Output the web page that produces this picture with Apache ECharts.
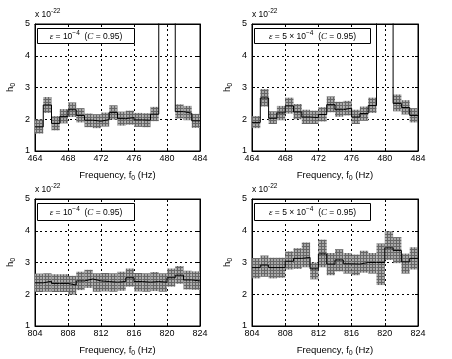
<!DOCTYPE html>
<html><head><meta charset="utf-8">
<script src="https://cdn.jsdelivr.net/npm/echarts@6/dist/echarts.min.js"></script>
<style>html,body{margin:0;padding:0;background:#fff}#c{width:452px;height:359px}</style>
</head><body><div id="c"></div>
<script>
// ---- data ----
const binsA = [464,465,466,467,468,469,470,471,472,473,474,475,476,477,478,479,480,481,482,483];
const binsB = [804,805,806,807,808,809,810,811,812,813,814,815,816,817,818,819,820,821,822,823];
const binWidth = 1;
const rangeA = [464, 484];
const rangeB = [804, 824];
const yRange = [1, 5];
const scaleLabel = ['x 10', '-22'];
const yName = ['h', '0'];
const xName = ['Frequency, f', '0', ' (Hz)'];
const legendEps = [['10', '\u22124'], ['5 \u00d7 10', '\u22124']];
const confLevel = '0.95';

// top-left: eps = 1e-4
const tlCenter = [1.76, 2.45, 1.87, 2.09, 2.30, 2.12, 1.97, 1.94, 1.99, 2.21, 2.02, 2.05, 1.98, 1.97, 2.16, 7.0, 7.0, 2.24, 2.19, 1.95];
const tlLow    = [1.55, 2.20, 1.65, 1.87, 2.07, 1.90, 1.75, 1.72, 1.77, 1.99, 1.80, 1.83, 1.76, 1.75, 1.94, 6.0, 6.0, 2.02, 1.97, 1.73];
const tlHigh   = [1.99, 2.70, 2.10, 2.32, 2.53, 2.35, 2.18, 2.16, 2.21, 2.44, 2.24, 2.27, 2.20, 2.19, 2.39, 8.0, 8.0, 2.47, 2.42, 2.17];
// top-right: eps = 5e-4
const trCenter = [1.90, 2.67, 2.03, 2.20, 2.42, 2.23, 2.07, 2.05, 2.15, 2.46, 2.30, 2.35, 2.07, 2.18, 2.43, 7.0, 7.0, 2.50, 2.37, 2.12];
const trLow    = [1.72, 2.40, 1.85, 1.97, 2.18, 2.00, 1.85, 1.85, 1.93, 2.22, 2.08, 2.12, 1.85, 1.95, 2.20, 6.0, 6.0, 2.25, 2.15, 1.90];
const trHigh   = [2.10, 2.95, 2.25, 2.42, 2.68, 2.48, 2.30, 2.27, 2.38, 2.72, 2.55, 2.58, 2.30, 2.40, 2.68, 8.0, 8.0, 2.78, 2.60, 2.35];
// bottom-left: eps = 1e-4
const blCenter = [2.36, 2.41, 2.34, 2.34, 2.29, 2.42, 2.48, 2.42, 2.40, 2.38, 2.40, 2.52, 2.40, 2.38, 2.40, 2.38, 2.52, 2.60, 2.45, 2.42];
const blLow    = [2.07, 2.08, 2.07, 2.07, 1.99, 2.13, 2.20, 2.08, 2.09, 2.08, 2.11, 2.24, 2.09, 2.08, 2.10, 2.08, 2.24, 2.33, 2.15, 2.14];
const blHigh   = [2.65, 2.66, 2.63, 2.63, 2.58, 2.71, 2.77, 2.66, 2.67, 2.66, 2.71, 2.81, 2.67, 2.66, 2.70, 2.66, 2.81, 2.89, 2.74, 2.72];
// bottom-right: eps = 5e-4
const brCenter = [2.84, 2.92, 2.84, 2.84, 3.04, 3.13, 3.16, 2.80, 3.27, 2.95, 3.08, 2.96, 2.95, 3.00, 3.00, 3.00, 3.46, 3.38, 3.02, 3.13];
const brLow    = [2.50, 2.55, 2.50, 2.52, 2.78, 2.80, 2.85, 2.47, 2.85, 2.60, 2.72, 2.65, 2.60, 2.68, 2.65, 2.29, 3.08, 2.98, 2.65, 2.78];
const brHigh   = [3.14, 3.22, 3.15, 3.15, 3.35, 3.45, 3.63, 3.00, 3.72, 3.30, 3.42, 3.30, 3.25, 3.37, 3.30, 3.60, 3.98, 3.80, 3.28, 3.48];

// ---- chart ----
const FONT = 'Liberation Sans, Arial, Helvetica, sans-serif';
const panels = [
  {bins: binsA, range: rangeA, c: tlCenter, lo: tlLow, hi: tlHigh, eps: 0, grid: {left: 35, top: 24, width: 165, height: 127}, box: {w: 97, h: 15}},
  {bins: binsA, range: rangeA, c: trCenter, lo: trLow, hi: trHigh, eps: 1, grid: {left: 252, top: 24, width: 166, height: 127}, box: {w: 116, h: 15}},
  {bins: binsB, range: rangeB, c: blCenter, lo: blLow, hi: blHigh, eps: 0, grid: {left: 35, top: 199, width: 165, height: 127}, box: {w: 97, h: 17}},
  {bins: binsB, range: rangeB, c: brCenter, lo: brLow, hi: brHigh, eps: 1, grid: {left: 252, top: 199, width: 166, height: 127}, box: {w: 116, h: 17}}
];

const pc = document.createElement('canvas');
pc.width = 3; pc.height = 3;
const pctx = pc.getContext('2d');
pctx.fillStyle = '#666666'; pctx.fillRect(0, 0, 3, 3);
pctx.fillStyle = '#a9a9a9'; pctx.fillRect(1, 1, 2, 2);
const pattern = {image: pc, repeat: 'repeat'};

function renderBand(params, api) {
  const x0 = api.value(0), lo = api.value(1), hi = api.value(2);
  const p1 = api.coord([x0, hi]);
  const p2 = api.coord([x0 + binWidth, lo]);
  const cs = params.coordSys;
  const shape = echarts.graphic.clipRectByRect(
    {x: p1[0], y: p1[1], width: p2[0] - p1[0], height: p2[1] - p1[1]},
    {x: cs.x, y: cs.y, width: cs.width, height: cs.height});
  if (!shape) return;
  return {type: 'rect', shape: shape, style: {fill: pattern}};
}

const subRich = {
  m: {fontSize: 9.5, fontFamily: FONT, color: '#000'},
  s: {fontSize: 7, fontFamily: FONT, color: '#000', padding: [7, 0, 0, 0]},
  p: {fontSize: 6.5, fontFamily: FONT, color: '#000', padding: [0, 0, 7, 0]},
  i: {fontSize: 9, fontFamily: 'Liberation Serif, serif', fontStyle: 'italic', color: '#000'},
  t: {fontSize: 8.5, fontFamily: FONT, color: '#000'}
};

const grids = [], xAxes = [], yAxes = [], series = [], graphics = [];
const dotted = {color: '#000', type: [2, 3], width: 1};
panels.forEach((P, i) => {
  grids.push(Object.assign({show: true, borderColor: '#000', borderWidth: 1, backgroundColor: '#fff'}, P.grid));
});
panels.forEach((P, i) => {
  xAxes.push({
    type: 'value', gridIndex: i, min: P.range[0], max: P.range[1], interval: 4,
    axisLine: {show: true, lineStyle: {color: '#000'}},
    axisTick: {show: true, inside: true, length: 3, lineStyle: {color: '#000'}},
    axisLabel: {fontSize: 9, color: '#000', fontFamily: FONT, margin: 3},
    splitLine: {show: true, lineStyle: dotted},
    name: '{m|' + xName[0] + '}{s|' + xName[1] + '}{m|' + xName[2] + '}',
    nameLocation: 'middle', nameGap: 17,
    nameTextStyle: {rich: subRich}
  });
  yAxes.push({
    type: 'value', gridIndex: i, min: yRange[0], max: yRange[1], interval: 1,
    axisLine: {show: true, lineStyle: {color: '#000'}},
    axisTick: {show: true, inside: true, length: 3, lineStyle: {color: '#000'}},
    axisLabel: {fontSize: 9, color: '#000', fontFamily: FONT, margin: 5},
    splitLine: {show: true, lineStyle: dotted},
    name: '{m|' + yName[0] + '}{s|' + yName[1] + '}',
    nameLocation: 'middle', nameGap: 18, nameRotate: 90,
    nameTextStyle: {rich: subRich}
  });
});
panels.forEach((P, i) => {
  xAxes.push({
    type: 'value', gridIndex: i, position: 'top', min: P.range[0], max: P.range[1], interval: 4,
    axisLine: {show: true, lineStyle: {color: '#000'}},
    axisTick: {show: true, inside: true, length: 3, lineStyle: {color: '#000'}},
    axisLabel: {show: false}, splitLine: {show: false}
  });
  yAxes.push({
    type: 'value', gridIndex: i, position: 'right', min: yRange[0], max: yRange[1], interval: 1,
    axisLine: {show: true, lineStyle: {color: '#000'}},
    axisTick: {show: true, inside: true, length: 3, lineStyle: {color: '#000'}},
    axisLabel: {show: false}, splitLine: {show: false}
  });
});
panels.forEach((P, i) => {
  series.push({
    type: 'custom', xAxisIndex: i, yAxisIndex: i,
    renderItem: renderBand,
    encode: {x: 0, y: [1, 2]},
    data: P.bins.map((f, k) => [f, P.lo[k], P.hi[k]]),
    silent: true, z: 2
  });
  const steps = P.bins.map((f, k) => [f, P.c[k]]);
  steps.push([P.bins[P.bins.length - 1] + binWidth, P.c[P.c.length - 1]]);
  series.push({
    type: 'line', xAxisIndex: i, yAxisIndex: i, step: 'end',
    data: steps, symbol: 'none', clip: true,
    lineStyle: {color: '#000', width: 1}, silent: true, z: 3
  });
  const g = P.grid;
  graphics.push({
    type: 'text', x: g.left, y: g.top - 9, z: 10,
    style: {text: '{t|' + scaleLabel[0] + '}{p|' + scaleLabel[1] + '}', rich: subRich,
            textAlign: 'left', textVerticalAlign: 'middle'}
  });
  graphics.push({
    type: 'rect', z: 10,
    shape: {x: g.left + 2.5, y: g.top + 4.5, width: P.box.w, height: P.box.h},
    style: {fill: '#fff', stroke: '#000', lineWidth: 1}
  });
  const e = legendEps[P.eps];
  graphics.push({
    type: 'text', z: 11,
    x: g.left + 2.5 + P.box.w / 2, y: g.top + 4.5 + P.box.h / 2 + 0.5,
    style: {text: '{i|\u03b5}{t| = ' + e[0] + '}{p|' + e[1] + '}{t|  (}{i|C}{t| = ' + confLevel + ')}',
            rich: subRich, textAlign: 'center', textVerticalAlign: 'middle'}
  });
});

const chart = echarts.init(document.getElementById('c'), null, {renderer: 'canvas'});
chart.setOption({
  animation: false,
  backgroundColor: '#fff',
  grid: grids, xAxis: xAxes, yAxis: yAxes, series: series, graphic: graphics
});
</script></body></html>
